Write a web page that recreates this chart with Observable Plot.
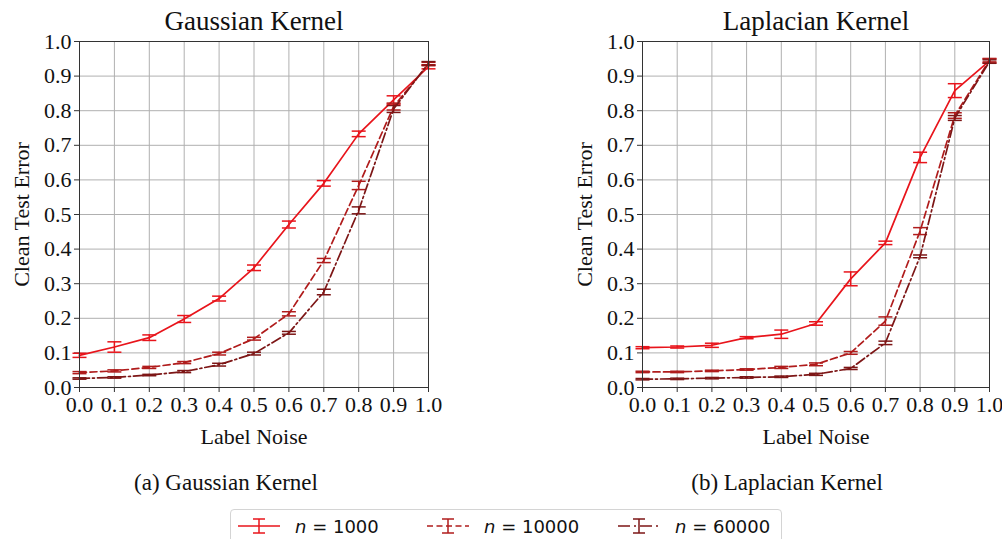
<!DOCTYPE html>
<html>
<head>
<meta charset="utf-8">
<script src="https://cdn.jsdelivr.net/npm/d3@7"></script>
<script src="https://cdn.jsdelivr.net/npm/@observablehq/plot@0.6"></script>
<style>
  html, body { margin: 0; padding: 0; background: white; }
  #page { position: relative; width: 1002px; height: 539px; overflow: hidden; background: white; }
  .panel { position: absolute; top: 0; }
  .caption { position: absolute; top: 470px; font-family: "Liberation Serif", serif; font-size: 23px; color: #111; white-space: nowrap; transform: translateX(-50%); }
  #legend { position: absolute; left: 230px; top: 509px; width: 552px; height: 40px; border: 1px solid #d4d4d4; border-radius: 4px; box-sizing: border-box; font-family: "DejaVu Sans", sans-serif; font-size: 18px; color: #111; }
  .entry { position: absolute; top: 5px; display: flex; align-items: center; height: 22px; white-space: nowrap; }
  .entry svg { margin-right: 14px; }
</style>
</head>
<body>
<div id="page">
  <div class="panel" id="left" style="left:0px"></div>
  <div class="panel" id="right" style="left:560px"></div>
  <div class="caption" style="left:226px">(a) Gaussian Kernel</div>
  <div class="caption" style="left:787px">(b) Laplacian Kernel</div>
  <div id="legend"></div>
</div>
<script>
// ---- data ----
const noise = [0.0, 0.1, 0.2, 0.3, 0.4, 0.5, 0.6, 0.7, 0.8, 0.9, 1.0];
const xTicks = [0.0, 0.1, 0.2, 0.3, 0.4, 0.5, 0.6, 0.7, 0.8, 0.9, 1.0];
const yTicks = [0.0, 0.1, 0.2, 0.3, 0.4, 0.5, 0.6, 0.7, 0.8, 0.9, 1.0];
const seriesNames = ["n = 1000", "n = 10000", "n = 60000"];
const seriesColors = ["#e8141b", "#b01c1c", "#7d1616"];
const seriesDash = ["none", "7,3.5", "10,3,2,3"];

const gaussN1000     = [0.093, 0.117, 0.144, 0.198, 0.257, 0.346, 0.471, 0.590, 0.733, 0.831, 0.927];
const gaussN1000Err  = [0.006, 0.015, 0.008, 0.010, 0.007, 0.008, 0.010, 0.008, 0.008, 0.012, 0.006];
const gaussN10000    = [0.043, 0.048, 0.058, 0.072, 0.098, 0.141, 0.213, 0.367, 0.584, 0.812, 0.935];
const gaussN10000Err = [0.003, 0.003, 0.003, 0.003, 0.004, 0.004, 0.006, 0.006, 0.012, 0.010, 0.005];
const gaussN60000    = [0.026, 0.029, 0.036, 0.046, 0.066, 0.098, 0.158, 0.276, 0.512, 0.805, 0.937];
const gaussN60000Err = [0.002, 0.002, 0.002, 0.003, 0.004, 0.004, 0.004, 0.008, 0.010, 0.010, 0.005];

const lapN1000       = [0.115, 0.117, 0.122, 0.144, 0.154, 0.185, 0.314, 0.418, 0.665, 0.858, 0.944];
const lapN1000Err    = [0.003, 0.003, 0.006, 0.003, 0.012, 0.005, 0.020, 0.005, 0.015, 0.020, 0.006];
const lapN10000      = [0.045, 0.045, 0.048, 0.052, 0.058, 0.067, 0.100, 0.192, 0.452, 0.786, 0.946];
const lapN10000Err   = [0.002, 0.002, 0.002, 0.002, 0.003, 0.004, 0.004, 0.012, 0.010, 0.008, 0.005];
const lapN60000      = [0.024, 0.025, 0.027, 0.029, 0.031, 0.038, 0.055, 0.129, 0.379, 0.779, 0.942];
const lapN60000Err   = [0.002, 0.002, 0.002, 0.002, 0.002, 0.003, 0.003, 0.005, 0.004, 0.007, 0.005];

const panels = [
  {id: "left", title: "Gaussian Kernel", width: 460, marginLeft: 79, marginRight: 32,
   values: [gaussN1000, gaussN10000, gaussN60000], errors: [gaussN1000Err, gaussN10000Err, gaussN60000Err]},
  {id: "right", title: "Laplacian Kernel", width: 442, marginLeft: 82, marginRight: 13,
   values: [lapN1000, lapN10000, lapN60000], errors: [lapN1000Err, lapN10000Err, lapN60000Err]}
];

// horizontal cap symbol for error bars
const capSymbol = {
  draw(ctx, size) { const w = Math.sqrt(size / Math.PI); ctx.moveTo(-w, 0); ctx.lineTo(w, 0); }
};

for (const p of panels) {
  const marks = [
    Plot.gridX(xTicks, {stroke: "#b0b0b0", strokeOpacity: 1, strokeWidth: 1}),
    Plot.gridY(yTicks, {stroke: "#b0b0b0", strokeOpacity: 1, strokeWidth: 1}),
    Plot.axisX(xTicks, {tickFormat: d3.format(".1f"), tickSize: 5, tickPadding: 4, fontSize: 22, stroke: "#333", label: null}),
    Plot.axisY(yTicks, {tickFormat: d3.format(".1f"), tickSize: 5, tickPadding: 3, fontSize: 22, stroke: "#333", label: null})
  ];
  seriesNames.forEach((name, i) => {
    const rows = noise.map((x, j) => ({x, y: p.values[i][j], lo: p.values[i][j] - p.errors[i][j], hi: p.values[i][j] + p.errors[i][j]}));
    const color = seriesColors[i];
    marks.push(
      Plot.line(rows, {x: "x", y: "y", stroke: color, strokeWidth: 1.7, strokeDasharray: seriesDash[i] === "none" ? null : seriesDash[i]}),
      Plot.ruleX(rows, {x: "x", y1: "lo", y2: "hi", stroke: color, strokeWidth: 1.5}),
      Plot.dot(rows, {x: "x", y: "lo", symbol: capSymbol, r: 7, stroke: color, fill: "none", strokeWidth: 1.5}),
      Plot.dot(rows, {x: "x", y: "hi", symbol: capSymbol, r: 7, stroke: color, fill: "none", strokeWidth: 1.5})
    );
  });
  marks.push(
    Plot.frame({stroke: "#333", strokeWidth: 1}),
    Plot.text([p.title], {frameAnchor: "top", dy: -20, fontSize: 27, fill: "#111", lineAnchor: "middle"}),
    Plot.text(["Label Noise"], {frameAnchor: "bottom", dy: 49, fontSize: 22, fill: "#111", lineAnchor: "middle"}),
    Plot.text(["Clean Test Error"], {frameAnchor: "left", dx: -58, rotate: -90, fontSize: 22, fill: "#111", lineAnchor: "middle", textAnchor: "middle"})
  );
  const chart = Plot.plot({
    width: p.width, height: 460,
    marginLeft: p.marginLeft, marginRight: p.marginRight, marginTop: 41, marginBottom: 73,
    x: {domain: [0, 1]},
    y: {domain: [0, 1]},
    style: {fontFamily: "Liberation Serif, serif", color: "#111", background: "white", overflow: "visible"},
    marks
  });
  document.getElementById(p.id).appendChild(chart);
}

// legend
const legend = document.getElementById("legend");
const entryX = [6, 195, 386];
seriesNames.forEach((name, i) => {
  const div = document.createElement("div");
  div.className = "entry";
  div.style.left = entryX[i] + "px";
  const dash = seriesDash[i] === "none" ? "" : `stroke-dasharray="${i === 1 ? "6,3.5" : "12,4,2,4"}"`;
  div.innerHTML = `<svg width="44" height="22" viewBox="0 0 44 22">
      <line x1="1" y1="11" x2="43" y2="11" stroke="${seriesColors[i]}" stroke-width="1.7" ${dash}/>
      <line x1="22" y1="4" x2="22" y2="18" stroke="${seriesColors[i]}" stroke-width="1.5"/>
      <line x1="16" y1="4" x2="28" y2="4" stroke="${seriesColors[i]}" stroke-width="1.5"/>
      <line x1="16" y1="18" x2="28" y2="18" stroke="${seriesColors[i]}" stroke-width="1.5"/>
    </svg><span><i>n</i> = ${name.split("= ")[1]}</span>`;
  legend.appendChild(div);
});
</script>
</body>
</html>
